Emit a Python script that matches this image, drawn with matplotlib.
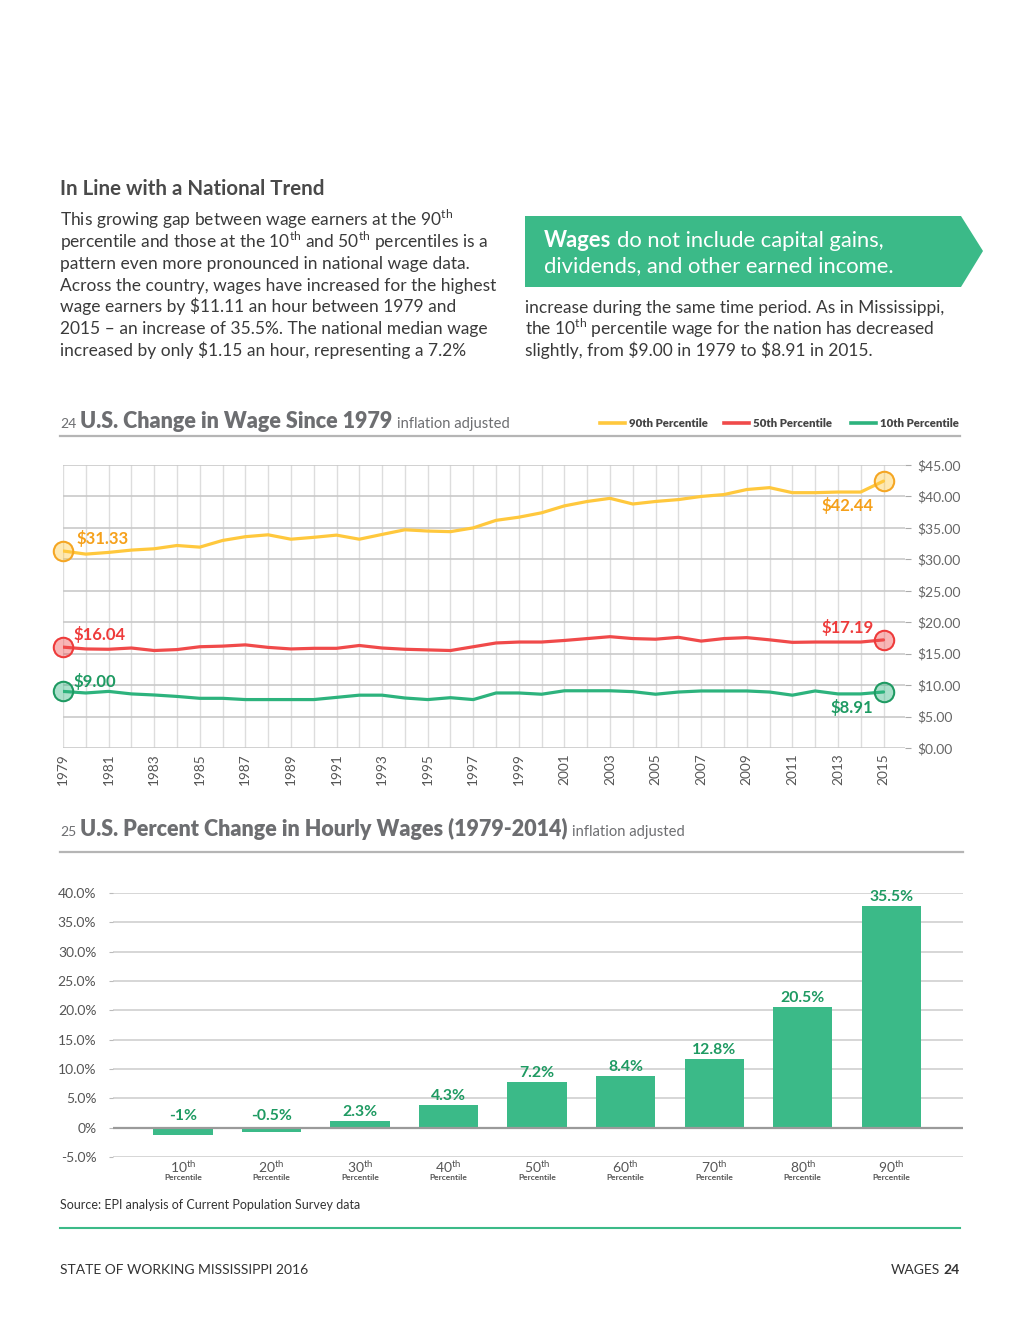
import matplotlib
matplotlib.use('Agg')
import matplotlib.pyplot as plt
from matplotlib.patches import Polygon
from matplotlib.lines import Line2D

plt.rcParams['font.family'] = ['Lato', 'DejaVu Sans']
plt.rcParams['mathtext.fontset'] = 'custom'
plt.rcParams['mathtext.rm'] = 'Lato'
plt.rcParams['mathtext.bf'] = 'Lato:bold'

# --- data -------------------------------------------------------------
years = list(range(1979, 2016))
p90 = [31.33, 30.83, 31.1, 31.47, 31.68, 32.2, 31.94, 33.0, 33.6, 33.9,
       33.2, 33.5, 33.85, 33.2, 33.96, 34.7, 34.5, 34.4, 35.0, 36.2,
       36.7, 37.4, 38.5, 39.2, 39.7, 38.8, 39.2, 39.5, 40.0, 40.3,
       41.1, 41.4, 40.6, 40.6, 40.7, 40.7, 42.44]
p50 = [16.04, 15.75, 15.7, 15.9, 15.5, 15.65, 16.1, 16.2, 16.4, 16.0,
       15.75, 15.85, 15.85, 16.3, 15.9, 15.7, 15.6, 15.5, 16.1, 16.7,
       16.85, 16.85, 17.1, 17.4, 17.7, 17.4, 17.3, 17.6, 17.0, 17.4,
       17.55, 17.2, 16.8, 16.85, 16.85, 16.85, 17.19]
p10 = [9.0, 8.75, 9.0, 8.6, 8.43, 8.2, 7.9, 7.9, 7.7, 7.7,
       7.7, 7.7, 8.05, 8.4, 8.4, 7.95, 7.7, 8.0, 7.7, 8.75,
       8.75, 8.55, 9.1, 9.1, 9.1, 8.96, 8.55, 8.9, 9.07, 9.07,
       9.07, 8.9, 8.4, 9.07, 8.6, 8.6, 8.91]
series_names = ['90th Percentile', '50th Percentile', '10th Percentile']
wage_ticks = [0, 5, 10, 15, 20, 25, 30, 35, 40, 45]

pct_names = ['10', '20', '30', '40', '50', '60', '70', '80', '90']
pct_heights = [-1.25, -0.74, 1.19, 3.93, 7.85, 8.82, 11.7, 20.5, 37.8]
pct_labels = ['-1%', '-0.5%', '2.3%', '4.3%', '7.2%', '8.4%', '12.8%', '20.5%', '35.5%']
pct_ticks = [-5, 0, 5, 10, 15, 20, 25, 30, 35, 40]

# colours
YEL, YEL_T = '#FFC83D', '#F5A01A'
RED, RED_T = '#F04A4A', '#EE3B3B'
GRN, GRN_T = '#2DB37D', '#1E9A62'
BAR = '#3BBA88'
GREY_T = '#6d6e71'
BODY = '#3a3a3a'

W, H = 1020, 1320
fig = plt.figure(figsize=(W / 100, H / 100), dpi=100)
r = fig.canvas.get_renderer()


def fx(x):
    return x / W


def fy(y):
    return 1 - y / H


def text_w(s, **kw):
    t = fig.text(0, 0, s, **kw)
    w = t.get_window_extent(renderer=r).width
    t.remove()
    return w


def run(x, y, pieces, ha='left'):
    # pieces of text on one baseline, one space between each
    widths = [text_w(s, **kw) for s, kw in pieces]
    gaps = [text_w('a a', **kw) - text_w('aa', **kw) for s, kw in pieces[:-1]]
    if ha == 'right':
        x -= sum(widths) + sum(gaps)
    for i, (s, kw) in enumerate(pieces):
        fig.text(fx(x), fy(y), s, va='baseline', **kw)
        x += widths[i] + (gaps[i] if i < len(gaps) else 0)


# --- page text ---------------------------------------------------------
fig.text(fx(60), fy(195), 'In Line with a National Trend', fontsize=14.8,
         fontweight='bold', color='#4a4a4a', va='baseline')

left_lines = [
    r'This growing gap between wage earners at the 90$^{\rm th}$',
    r'percentile and those at the 10$^{\rm th}$ and 50$^{\rm th}$ percentiles is a',
    'pattern even more pronounced in national wage data.',
    'Across the country, wages have increased for the highest',
    'wage earners by $11.11 an hour between 1979 and',
    '2015 – an increase of 35.5%. The national median wage',
    'increased by only $1.15 an hour, representing a 7.2%',
]
right_lines = [
    'increase during the same time period. As in Mississippi,',
    r'the 10$^{\rm th}$ percentile wage for the nation has decreased',
    r'slightly, from \$9.00 in 1979 to \$8.91 in 2015.',
]
for i, s in enumerate(left_lines):
    fig.text(fx(60), fy(226 + i * 21.6), s, fontsize=12.5, color=BODY, va='baseline')
for i, s in enumerate(right_lines):
    fig.text(fx(525), fy(313 + i * 21.6), s, fontsize=12.5, color=BODY, va='baseline')

# callout box
box = Polygon([(fx(525), fy(216)), (fx(961), fy(216)), (fx(983), fy(251)),
               (fx(961), fy(287)), (fx(525), fy(287))],
              closed=True, transform=fig.transFigure, facecolor=BAR, edgecolor='none')
fig.patches.append(box)
run(544, 247, [('Wages', dict(fontsize=15.8, fontweight='bold', color='white')),
               ('do not include capital gains,', dict(fontsize=15.8, color='white'))])
fig.text(fx(544), fy(272), 'dividends, and other earned income.', fontsize=15.8,
         color='white', va='baseline')

# --- chart 24: line chart ---------------------------------------------
run(60, 428, [('24', dict(fontsize=10, color=GREY_T)),
              ('U.S. Change in Wage Since 1979', dict(fontsize=15.5, fontweight='heavy', color=GREY_T)),
              ('inflation adjusted', dict(fontsize=10.6, color=GREY_T))])
fig.add_artist(Line2D([fx(60), fx(960)], [fy(436), fy(436)], color='#b5b5b5', lw=1.6))

# legend
for (lx, name, col) in [(600, series_names[0], YEL), (724, series_names[1], RED),
                        (851, series_names[2], GRN)]:
    fig.add_artist(Line2D([fx(lx), fx(lx + 25)], [fy(423), fy(423)], color=col, lw=2.6))
    fig.text(fx(lx + 29), fy(423.5), name, fontsize=8.2, fontweight='heavy',
             color='#444444', va='center')

ax = fig.add_axes([fx(63), fy(748), (905 - 63) / W, (748 - 465) / H])
ppy = (883.5 - 63) / 36
ax.set_xlim(1979, 1979 + (905 - 63) / ppy)
ax.set_ylim(0, 45)
for s in ax.spines.values():
    s.set_visible(False)
ax.set_xticks(years[::2])
ax.set_xticks(years[1::2], minor=True)
ax.set_xticklabels([str(y) for y in years[::2]], rotation=90, fontsize=9.8, color='#555555')
ax.tick_params(axis='x', which='both', length=0, pad=4)
ax.grid(axis='x', which='both', color='#dddddd', lw=1)
ax.set_yticks(wage_ticks)
ax.set_yticklabels(['${:.2f}'.format(v) for v in wage_ticks], fontsize=10, color='#666666')
ax.yaxis.tick_right()
ax.tick_params(axis='y', length=4, color='#aaaaaa', pad=4.5)
ax.grid(axis='y', color='#c9c9c9', lw=1.2)
ax.set_axisbelow(True)

for vals, col, ecol in [(p90, YEL, '#F5A623'), (p50, RED, RED_T), (p10, GRN, GRN_T)]:
    ax.plot(years, vals, color=col, lw=2.3, solid_capstyle='round', zorder=3)
    for x_, y_ in [(years[0], vals[0]), (years[-1], vals[-1])]:
        ax.plot(x_, y_, 'o', ms=14, mfc=col, mec=ecol, mew=1.4, alpha=0.4,
                clip_on=False, zorder=4)
        ax.plot(x_, y_, 'o', ms=14, mfc='none', mec=ecol, mew=1.4,
                clip_on=False, zorder=5)

lab_kw = dict(textcoords='offset pixels', fontsize=12, fontweight='bold', va='center')
ax.annotate('${:.2f}'.format(p90[0]), (years[0], p90[0]), xytext=(13, 12), color=YEL_T, ha='left', **lab_kw)
ax.annotate('${:.2f}'.format(p50[0]), (years[0], p50[0]), xytext=(10, 13), color=RED_T, ha='left', **lab_kw)
ax.annotate('${:.2f}'.format(p10[0]), (years[0], p10[0]), xytext=(10, 10), color=GRN_T, ha='left', **lab_kw)
ax.annotate('${:.2f}'.format(p90[-1]), (years[-1], p90[-1]), xytext=(-10, -24), color=YEL_T, ha='right', **lab_kw)
ax.annotate('${:.2f}'.format(p50[-1]), (years[-1], p50[-1]), xytext=(-10, 12), color=RED_T, ha='right', **lab_kw)
ax.annotate('${:.2f}'.format(p10[-1]), (years[-1], p10[-1]), xytext=(-10, -16), color=GRN_T, ha='right', **lab_kw)

# --- chart 25: bar chart ----------------------------------------------
run(60, 836, [('25', dict(fontsize=10, color=GREY_T)),
              ('U.S. Percent Change in Hourly Wages (1979-2014)',
               dict(fontsize=15.5, fontweight='heavy', color=GREY_T)),
              ('inflation adjusted', dict(fontsize=10.6, color=GREY_T))])
fig.add_artist(Line2D([fx(60), fx(963)], [fy(852), fy(852)], color='#b5b5b5', lw=1.6))

bx = fig.add_axes([fx(113), fy(1157), 850 / W, (1157 - 893) / H])
pos = list(range(len(pct_names)))
bx.bar(pos, pct_heights, width=0.67, color=BAR, zorder=3)
bx.set_xlim(-0.79, 8.81)
bx.set_ylim(-5, 40)
for s in bx.spines.values():
    s.set_visible(False)
bx.set_yticks(pct_ticks)
bx.set_yticklabels(['0%' if v == 0 else '{:.1f}%'.format(v) for v in pct_ticks],
                   fontsize=10, color='#555555')
bx.tick_params(axis='y', length=3, color='#bbbbbb', pad=9)
bx.grid(axis='y', color='#d6d6d6', lw=1.4)
bx.axhline(0, color='#9a9a9a', lw=1.6, zorder=4)
bx.set_axisbelow(True)
bx.set_xticks(pos)
bx.set_xticklabels([n + r'$^{\rm th}$' for n in pct_names], fontsize=10, color='#555555')
bx.tick_params(axis='x', length=0, pad=1)
for p, h, lab in zip(pos, pct_heights, pct_labels):
    bx.annotate(lab, (p, max(h, 0)), xytext=(0, 5 if h < 0 else 2), textcoords='offset pixels',
                ha='center', va='bottom', fontsize=11.3, fontweight='bold', color=GRN_T)
    bx.text(p, -0.065, 'Percentile', transform=bx.get_xaxis_transform(), ha='center',
            va='top', fontsize=6, fontweight='bold', color='#555555')

# --- footer -----------------------------------------------------------
fig.text(fx(60), fy(1209), 'Source: EPI analysis of Current Population Survey data',
         fontsize=9, color='#333333', va='baseline')
fig.add_artist(Line2D([fx(60), fx(960)], [fy(1228), fy(1228)], color=BAR, lw=1.5))
fig.text(fx(60), fy(1274), 'STATE OF WORKING MISSISSIPPI 2016', fontsize=10,
         color='#333333', va='baseline')
run(960, 1274, [('WAGES', dict(fontsize=10, color='#333333')),
                ('24', dict(fontsize=10, fontweight='bold', color='#333333'))], ha='right')

fig.savefig('out.png', dpi=100, facecolor='white')
